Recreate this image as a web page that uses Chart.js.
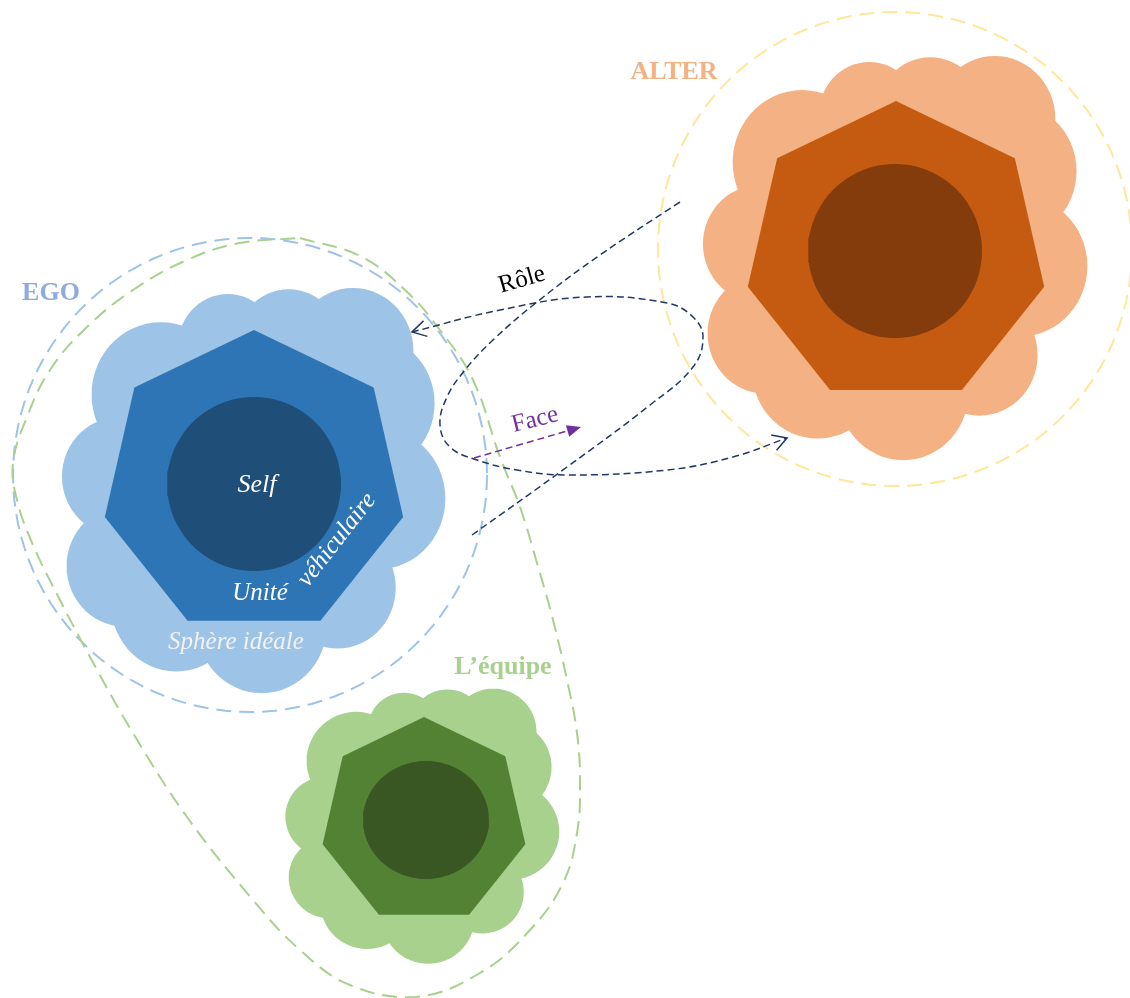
<!DOCTYPE html>
<html lang="fr">
<head>
<meta charset="UTF-8">
<title>Ego, Alter et l’équipe</title>
<script src="https://cdn.jsdelivr.net/npm/chart.js"></script>
<style>
  html, body { margin: 0; background: #ffffff; }
  canvas { display: block; }
</style>
</head>
<body>
<canvas id="diagram" width="1130" height="998"></canvas>
<script>
// figure values, read in pixel units of the 1130 x 998 frame (y grows downwards)
const groups = ['EGO', 'ALTER', 'equipe'];
const cloudLeft = [60, 701, 284];
const cloudTop = [290, 58, 690];
const cloudRight = [445, 1087, 559];
const cloudBottom = [692, 459, 963];
const heptaX = [254, 896, 424];
const heptaY = [483, 253, 821];
const heptaR = [153, 152, 104];
const coreX = [254, 895, 426];
const coreY = [484, 251, 820];
const coreRx = [87, 87, 63];
const coreRy = [87, 87, 59];

// bumps of the cloud outline, as fractions of the cloud box
const bumpU = [0.262, 0.436, 0.594, 0.761, 0.803, 0.825, 0.721, 0.524, 0.302, 0.167, 0.152];
const bumpV = [0.260, 0.140, 0.136, 0.152, 0.282, 0.519, 0.741, 0.834, 0.779, 0.687, 0.464];
const bumpR = [0.180, 0.130, 0.138, 0.157, 0.170, 0.176, 0.151, 0.169, 0.170, 0.150, 0.147];

// dashed boundaries
const egoRingX = 250, egoRingY = 475, egoRingR = 237;
const alterRingX = 895, alterRingY = 249, alterRingR = 237;
const teamX = [300, 360, 405, 440, 473, 500, 520, 537, 553, 567, 577, 580, 577, 563, 530, 480, 415, 350, 300, 253, 187, 133, 90, 60, 33, 17, 13, 27, 50, 87, 133, 187, 240, 300];
const teamY = [238, 256, 290, 330, 380, 457, 507, 563, 620, 680, 733, 783, 833, 883, 930, 973, 997, 985, 950, 900, 817, 733, 657, 600, 545, 500, 463, 417, 370, 327, 290, 260, 243, 238];

// "Rôle" paths
const roleAX = [472, 567, 650, 693, 703, 693, 667, 587, 500, 412];
const roleAY = [535, 467, 405, 367, 337, 317, 303, 297, 310, 332];
const roleBX = [680, 600, 537, 493, 465, 447, 440, 450, 477, 517, 567, 667, 733, 787];
const roleBY = [202, 255, 302, 340, 370, 397, 425, 447, 460, 470, 475, 470, 457, 438];
// "Face" arrow
const faceX = [474, 581];
const faceY = [458, 427];

const labelTexts = ['EGO', 'ALTER', 'L’équipe', 'Self', 'Unité', 'véhiculaire', 'Sphère idéale', 'Rôle', 'Face'];
const labelX = [51, 674, 503, 257, 260, 337, 236, 522, 535];
const labelY = [293, 72, 667, 485, 593, 540, 642, 280, 420];
const labelAngle = [0, 0, 0, 0, 0, -52, 0, -16, -14];

// styles
const cloudColor = ['#9DC3E6', '#F4B183', '#A9D18E'];
const heptaColor = ['#2E75B6', '#C55A11', '#548235'];
const coreColor = ['#1F4E79', '#843C0C', '#385723'];
const labelFont = ['bold 26px "Liberation Serif"', 'bold 26px "Liberation Serif"', 'bold 26px "Liberation Serif"',
  'italic 26px "Liberation Serif"', 'italic 25px "Liberation Serif"', 'italic 25px "Liberation Serif"',
  'italic 25px "Liberation Serif"', '25px "Liberation Serif"', '25px "Liberation Serif"'];
const labelColor = ['#8FAADC', '#F4B183', '#A9D18E', '#FFFFFF', '#FFFFFF', '#FFFFFF', '#F2F2F2', '#000000', '#7030A0'];
const navy = '#203864';
const purple = '#7030A0';

function ring(cx, cy, rx, ry, n) {
  const pts = [];
  for (let k = 0; k <= n; k++) {
    const a = 2 * Math.PI * k / n;
    pts.push({x: cx + rx * Math.cos(a), y: cy + ry * Math.sin(a)});
  }
  return pts;
}

function heptagon(cx, cy, r) {
  const pts = [];
  for (let k = 0; k <= 7; k++) {
    const a = 2 * Math.PI * k / 7;
    pts.push({x: cx + r * Math.sin(a), y: cy - r * Math.cos(a)});
  }
  return pts;
}

function zipPts(xs, ys) {
  return xs.map((x, i) => ({x: x, y: ys[i]}));
}

function filled(pts, color) {
  return {data: pts, showLine: true, fill: 'shape', backgroundColor: color, borderWidth: 0, tension: 0};
}

function stroked(pts, color, width, dash, tension) {
  return {data: pts, showLine: true, fill: false, borderColor: color, borderWidth: width, borderDash: dash, tension: tension};
}

// open "V" head at the end of a path
function vHead(xs, ys, len) {
  const n = xs.length;
  const dx = xs[n - 1] - xs[n - 2], dy = ys[n - 1] - ys[n - 2];
  const d = Math.hypot(dx, dy);
  const bx = -dx / d, by = -dy / d;
  const s = Math.sin(Math.PI / 6), c = Math.cos(Math.PI / 6);
  const tx = xs[n - 1], ty = ys[n - 1];
  return [
    {x: tx + len * (bx * c - by * s), y: ty + len * (bx * s + by * c)},
    {x: tx, y: ty},
    {x: tx + len * (bx * c + by * s), y: ty + len * (-bx * s + by * c)}
  ];
}

// solid triangle head
function triHead(xs, ys, len, half) {
  const dx = xs[1] - xs[0], dy = ys[1] - ys[0];
  const d = Math.hypot(dx, dy);
  const ux = dx / d, uy = dy / d;
  const bx = xs[1] - ux * len, by = ys[1] - uy * len;
  return [
    {x: xs[1], y: ys[1]},
    {x: bx - uy * half, y: by + ux * half},
    {x: bx + uy * half, y: by - ux * half},
    {x: xs[1], y: ys[1]}
  ];
}

const datasets = [];

// dashed group boundaries
datasets.push(stroked(ring(egoRingX, egoRingY, egoRingR, egoRingR, 120), '#9DC3E6', 2, [15, 8], 0));
datasets.push(stroked(ring(alterRingX, alterRingY, alterRingR, alterRingR, 120), '#FFE699', 2, [15, 8], 0));
datasets.push(stroked(zipPts(teamX, teamY), '#A9D18E', 2, [15, 8], 0.4));

groups.forEach((g, i) => {
  const w = cloudRight[i] - cloudLeft[i];
  const h = cloudBottom[i] - cloudTop[i];
  const bx = bumpU.map(u => cloudLeft[i] + u * w);
  const by = bumpV.map(v => cloudTop[i] + v * h);
  // body of the cloud, then its bumps
  datasets.push(filled(zipPts(bx.concat([bx[0]]), by.concat([by[0]])), cloudColor[i]));
  bumpR.forEach((r, k) => {
    datasets.push(filled(ring(bx[k], by[k], r * w, r * h, 60), cloudColor[i]));
  });
  datasets.push(filled(heptagon(heptaX[i], heptaY[i], heptaR[i]), heptaColor[i]));
  datasets.push(filled(ring(coreX[i], coreY[i], coreRx[i], coreRy[i], 90), coreColor[i]));
});

// role paths and their heads
datasets.push(stroked(zipPts(roleAX, roleAY), navy, 1.5, [7, 4], 0.4));
datasets.push(stroked(vHead(roleAX, roleAY, 16), navy, 1.5, [], 0));
datasets.push(stroked(zipPts(roleBX, roleBY), navy, 1.5, [7, 4], 0.4));
datasets.push(stroked(vHead(roleBX, roleBY, 16), navy, 1.5, [], 0));

// face arrow
const faceLen = 14;
const fdx = faceX[1] - faceX[0], fdy = faceY[1] - faceY[0], fd = Math.hypot(fdx, fdy);
datasets.push(stroked([{x: faceX[0], y: faceY[0]}, {x: faceX[1] - fdx / fd * faceLen, y: faceY[1] - fdy / fd * faceLen}], purple, 1.5, [7, 4], 0));
datasets.push(filled(triHead(faceX, faceY, faceLen, 6), purple));

// painter's order: first pushed is drawn first
datasets.forEach((ds, i) => {
  ds.order = datasets.length - i;
  ds.pointRadius = 0;
  ds.pointHoverRadius = 0;
});

const textPlugin = {
  id: 'diagramText',
  afterDatasetsDraw(chart) {
    const ctx = chart.ctx;
    const xs = chart.scales.x, ys = chart.scales.y;
    labelTexts.forEach((t, i) => {
      ctx.save();
      ctx.translate(xs.getPixelForValue(labelX[i]), ys.getPixelForValue(labelY[i]));
      ctx.rotate(labelAngle[i] * Math.PI / 180);
      ctx.font = labelFont[i];
      ctx.fillStyle = labelColor[i];
      ctx.textAlign = 'center';
      ctx.textBaseline = 'middle';
      ctx.fillText(t, 0, 0);
      ctx.restore();
    });
  }
};

new Chart(document.getElementById('diagram'), {
  type: 'scatter',
  data: {datasets: datasets},
  options: {
    responsive: false,
    animation: false,
    events: [],
    layout: {padding: 0},
    scales: {
      x: {type: 'linear', min: 0, max: 1130, display: false},
      y: {type: 'linear', min: 0, max: 998, reverse: true, display: false}
    },
    plugins: {
      legend: {display: false},
      tooltip: {enabled: false}
    }
  },
  plugins: [textPlugin]
});
</script>
</body>
</html>
